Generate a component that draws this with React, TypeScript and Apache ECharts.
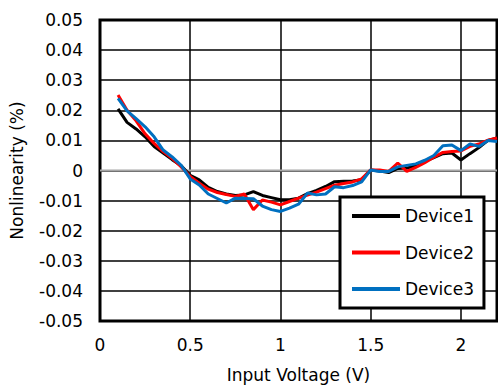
import React, { useEffect, useRef } from "react";
import * as echarts from "echarts";

const xValues = [
  0.1, 0.15, 0.2, 0.25, 0.3, 0.35, 0.4, 0.45, 0.5, 0.55, 0.6, 0.65, 0.7, 0.75, 0.8,
  0.85, 0.9, 0.95, 1.0, 1.05, 1.1, 1.15, 1.2, 1.25, 1.3, 1.35, 1.4, 1.45, 1.5, 1.55,
  1.6, 1.65, 1.7, 1.75, 1.8, 1.85, 1.9, 1.95, 2.0, 2.05, 2.1, 2.15, 2.2,
];

const device1 = [
  0.0205, 0.016, 0.0138, 0.0112, 0.008, 0.0058, 0.0036, 0.0016, -0.0016, -0.0031, -0.0056,
  -0.007, -0.0078, -0.0083, -0.0081, -0.007, -0.0083, -0.009, -0.0097, -0.0097, -0.0092,
  -0.0077, -0.0066, -0.0053, -0.0037, -0.0036, -0.0035, -0.0031, 0.0002, -0.0002, -0.0007,
  0.0007, 0.0008, 0.0016, 0.003, 0.0043, 0.0056, 0.0058, 0.0035, 0.0056, 0.0076, 0.01, 0.0108,
];

const device2 = [
  0.0251, 0.02, 0.0165, 0.0122, 0.009, 0.0063, 0.004, 0.0012, -0.002, -0.0042, -0.0062,
  -0.0073, -0.008, -0.0086, -0.0078, -0.013, -0.0098, -0.0105, -0.0114, -0.0103, -0.0092,
  -0.0082, -0.0072, -0.006, -0.0049, -0.0043, -0.0038, -0.0028, 0.0002, 0.0002, -0.0003,
  0.0025, -0.0003, 0.001, 0.0026, 0.0044, 0.006, 0.0063, 0.0065, 0.008, 0.0088, 0.0101, 0.0108,
];

const device3 = [
  0.024, 0.0198, 0.0172, 0.0145, 0.0112, 0.0068, 0.0045, 0.0017, -0.0028, -0.0048, -0.0078,
  -0.0093, -0.0108, -0.0092, -0.0093, -0.0094, -0.0118, -0.013, -0.0136, -0.0125, -0.0112,
  -0.0075, -0.0081, -0.0078, -0.0054, -0.0057, -0.005, -0.0038, 0.0002, -0.0003, -0.0003,
  0.0012, 0.0017, 0.0022, 0.0034, 0.005, 0.0082, 0.0085, 0.0066, 0.0088, 0.008, 0.01, 0.0096,
];

const seriesNames = ["Device1", "Device2", "Device3"];
const seriesColors = ["#000000", "#ff0000", "#0070c0"];
const xRange = [0, 2.2];
const yRange = [-0.05, 0.05];

const FONT = "DejaVu Sans";

export default function App() {
  const ref = useRef<HTMLDivElement>(null);

  useEffect(() => {
    if (!ref.current) return;
    const chart = echarts.init(ref.current, null, { renderer: "svg" });
    const all = [device1, device2, device3];
    const series: any[] = [
      {
        name: "zero",
        type: "line",
        data: [
          [xRange[0], 0],
          [xRange[1], 0],
        ],
        showSymbol: false,
        symbol: "none",
        silent: true,
        z: 1,
        lineStyle: { color: "#a6a6a6", width: 2 },
      },
    ];
    all.forEach((vals, i) => {
      series.push({
        name: seriesNames[i],
        type: "line",
        data: xValues.map((x, j) => [x, vals[j]]),
        showSymbol: false,
        symbol: "none",
        z: 2 + i,
        color: seriesColors[i],
        lineStyle: { color: seriesColors[i], width: 3 },
      });
    });

    chart.setOption({
      animation: false,
      backgroundColor: "#ffffff",
      textStyle: { fontFamily: FONT },
      grid: {
        left: 100,
        right: 1,
        top: 20,
        bottom: 67,
        show: true,
        borderColor: "#000",
        borderWidth: 3,
        backgroundColor: "transparent",
      },
      legend: {
        data: seriesNames,
        orient: "vertical",
        left: 340,
        top: 197,
        icon: "rect",
        itemWidth: 48,
        itemHeight: 4,
        itemGap: 18.5,
        padding: [10, 10, 10, 12],
        backgroundColor: "#ffffff",
        borderColor: "#000",
        borderWidth: 3,
        textStyle: { fontFamily: FONT, fontSize: 17, color: "#000", lineHeight: 18 },
      },
      xAxis: {
        type: "value",
        min: xRange[0],
        max: xRange[1],
        interval: 0.5,
        name: "Input Voltage (V)",
        nameLocation: "middle",
        nameGap: 45,
        nameTextStyle: { fontFamily: FONT, fontSize: 17, color: "#000" },
        axisLine: { show: false },
        axisTick: { show: false },
        axisLabel: {
          fontFamily: FONT,
          fontSize: 17,
          color: "#000",
          margin: 15,
          showMaxLabel: false,
          formatter: (v: number) => (Math.abs(v - 2.2) < 1e-6 ? "" : String(v)),
        },
        splitLine: { show: true, lineStyle: { color: "#000", width: 1.5 } },
      },
      yAxis: {
        type: "value",
        min: yRange[0],
        max: yRange[1],
        interval: 0.01,
        name: "Nonlinearity (%)",
        nameLocation: "middle",
        nameGap: 75,
        nameTextStyle: { fontFamily: FONT, fontSize: 17, color: "#000" },
        axisLine: { show: false },
        axisTick: { show: false },
        axisLabel: {
          fontFamily: FONT,
          fontSize: 17,
          color: "#000",
          margin: 17,
          formatter: (v: number) => {
            const r = Math.round(v * 100) / 100;
            return r === 0 ? "0" : r.toFixed(2);
          },
        },
        splitLine: { show: true, lineStyle: { color: "#000", width: 1.5 } },
      },
      series,
    });

    return () => {
      chart.dispose();
    };
  }, []);

  return (
    <div
      ref={ref}
      style={{ position: "absolute", left: 0, top: 0, width: 498, height: 388 }}
    />
  );
}
